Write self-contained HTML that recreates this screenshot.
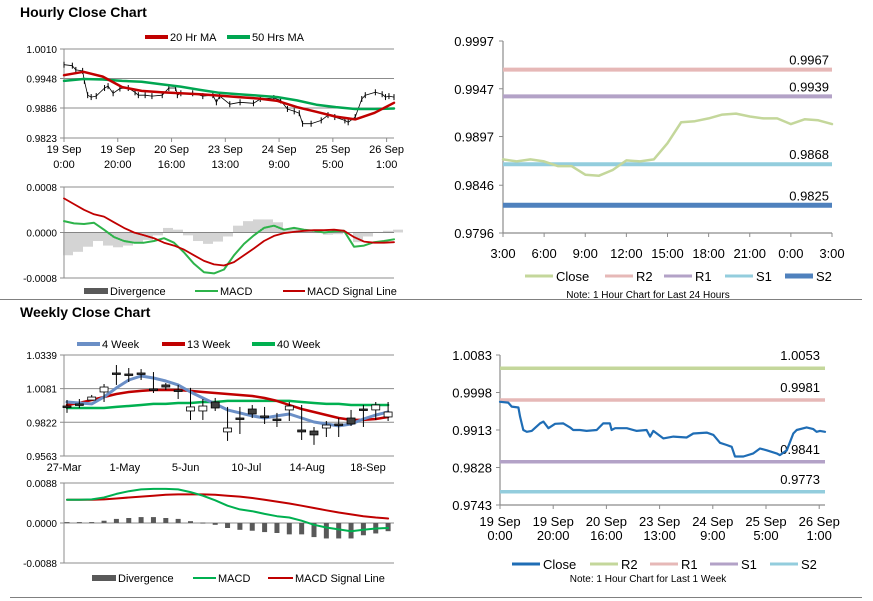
<!DOCTYPE html>
<html><head><meta charset="utf-8"><style>
body{margin:0;background:#fff;}
svg{display:block;font-family:"Liberation Sans",Arial,sans-serif;}
</style></head><body>
<svg id="c" width="873" height="601" viewBox="0 0 873 601" xmlns="http://www.w3.org/2000/svg">
<rect width="873" height="601" fill="#fff"/>
<text x="20" y="17" font-size="14" font-weight="bold" fill="#000">Hourly Close Chart</text>
<text x="20" y="317" font-size="14" font-weight="bold" fill="#000">Weekly Close Chart</text>
<line x1="0" y1="299.5" x2="862" y2="299.5" stroke="#808080" stroke-width="1"/>
<line x1="10" y1="597.5" x2="862" y2="597.5" stroke="#808080" stroke-width="1"/>
<g id="g"></g>
</svg>
<script>
// ---------- data ----------
const weekTime = [0,4.3,6.1,9.6,10.5,12.2,14,16.6,20.9,22.7,25.3,28.8,33.1,36.6,38.3,41.8,45.3,50.6,54,57.5,58.4,60.2,66.3,71.5,76.7,78.5,80.2,85.4,90.7,97.6,101.1,108.1,111.6,115.1,118.6,121.2,122.9,127.3,132.5,136,139.5,144.7,146.4,150,153.4,155.2,160.4,163.9,165.6,167.4,170];
const weekClose = [0.9977,0.9975,0.9966,0.9964,0.9943,0.9913,0.9909,0.9911,0.9928,0.9932,0.9917,0.9927,0.9928,0.9919,0.9913,0.9913,0.9911,0.9913,0.9928,0.9928,0.9913,0.9917,0.9917,0.9911,0.9913,0.9898,0.9911,0.9894,0.9898,0.9896,0.9905,0.9907,0.9902,0.9884,0.9879,0.9875,0.9853,0.9853,0.9860,0.9871,0.9867,0.9860,0.9856,0.9867,0.9905,0.9913,0.9919,0.9915,0.9909,0.9911,0.9909];
const hourTicks = ["19 Sep|0:00","19 Sep|20:00","20 Sep|16:00","23 Sep|13:00","24 Sep|9:00","25 Sep|5:00","26 Sep|1:00"];
const hourTickPos = [0,27.7,55.4,83.1,110.8,138.5,166.2];
const maTime = [0,10,20,30,40,50,60,70,80,90,100,110,120,130,140,150,160,170];
const ma20 = [0.9955,0.9962,0.9952,0.9930,0.9922,0.9919,0.9917,0.9915,0.9912,0.9909,0.9906,0.9901,0.9888,0.9878,0.9868,0.9862,0.9876,0.9897];
const ma50 = [0.9943,0.9947,0.9946,0.9943,0.9941,0.9936,0.9931,0.9924,0.9918,0.9915,0.9912,0.9909,0.9902,0.9893,0.9888,0.9884,0.9884,0.9885];
const hPriceTicks = [1.0010,0.9948,0.9886,0.9823];
const hMacd = [2,1.6,1.5,1.7,0.5,-0.8,-1.5,-1.8,-1.8,-1.5,-1,-1.8,-3.5,-5.5,-7,-7.2,-6.5,-4,-2,-0.5,0.8,1.2,0.5,0.8,0.5,0.3,0,0.2,0.3,-2.5,-2.3,-1.7,-1.5,-1.2];
const hSignal = [6,5,4,3.2,2.8,1.8,0.8,0,-0.5,-1,-1.8,-2.3,-3,-4,-5,-5.6,-5.8,-5.2,-4,-2.8,-1.5,-0.6,-0.1,0.1,0.3,0.4,0.4,0.5,0.3,-0.8,-1.6,-1.8,-1.8,-1.7];
const hMacdTicks = ["0.0008","0.0000","-0.0008"];
const dayClose = [0.9873,0.9871,0.9873,0.9871,0.9866,0.9866,0.9857,0.9856,0.9862,0.9872,0.9871,0.9873,0.9890,0.9912,0.9913,0.9916,0.9920,0.9921,0.9918,0.9916,0.9916,0.9910,0.9915,0.9914,0.9910];
const dayTicks = ["3:00","6:00","9:00","12:00","15:00","18:00","21:00","0:00","3:00"];
const dayYTicks = [0.9997,0.9947,0.9897,0.9846,0.9796];
const dayLevels = [0.9967,0.9939,0.9868,0.9825];
const dayLevelNames = ["R2","R1","S1","S2"];
const weekLevels = [1.0053,0.9981,0.9841,0.9773];
const weekLevelNames = ["R2","R1","S1","S2"];
const weekYTicks = [1.0083,0.9998,0.9913,0.9828,0.9743];
const wOpen = [0.9947,0.9963,0.9993,1.0055,1.0201,1.0193,1.0201,1.0078,1.0109,1.0070,0.9909,0.9909,0.9978,0.9748,0.9855,0.9924,0.9871,0.9847,0.9917,0.9763,0.9755,0.9778,0.9809,0.9855,0.9924,0.9917,0.9863];
const wClose = [0.9940,0.9955,1.0016,1.0093,1.0193,1.0186,1.0193,1.0070,1.0093,1.0063,0.9940,0.9947,0.9932,0.9778,0.9847,0.9886,0.9863,0.9840,0.9947,0.9748,0.9725,0.9801,0.9801,0.9809,0.9917,0.9955,0.9901];
const wHigh = [0.9993,1.0001,1.0032,1.0116,1.0262,1.0239,1.0231,1.0208,1.0124,1.0109,1.0086,1.0001,1.0009,0.9940,0.9940,0.9955,0.9940,0.9894,0.9978,0.9955,0.9786,0.9832,0.9855,0.9917,0.9955,0.9978,0.9978];
const wLow = [0.9894,0.9932,0.9993,0.9978,1.0109,1.0132,1.0147,1.0047,1.0070,1.0001,0.9840,0.9840,0.9909,0.9679,0.9732,0.9855,0.9809,0.9786,0.9832,0.9686,0.9648,0.9709,0.9709,0.9794,0.9786,0.9840,0.9832];
const w4 = [0.9978,0.9970,0.9963,1.0016,1.0086,1.0147,1.0178,1.0162,1.0139,1.0109,1.0055,1.0009,0.9963,0.9917,0.9894,0.9871,0.9855,0.9871,0.9886,0.9855,0.9824,0.9809,0.9794,0.9809,0.9847,0.9878,0.9901];
const w13 = [0.9955,0.9970,0.9993,1.0016,1.0039,1.0055,1.0063,1.0070,1.0070,1.0070,1.0063,1.0055,1.0047,1.0039,1.0032,1.0024,1.0009,0.9986,0.9955,0.9924,0.9901,0.9878,0.9855,0.9840,0.9840,0.9847,0.9863];
const w40 = [0.9932,0.9932,0.9932,0.9932,0.9940,0.9947,0.9955,0.9963,0.9963,0.9970,0.9970,0.9978,0.9978,0.9986,0.9986,0.9986,0.9986,0.9986,0.9986,0.9978,0.9970,0.9963,0.9963,0.9955,0.9955,0.9955,0.9955];
const wYTicks = [1.0339,1.0081,0.9822,0.9563];
const wXTicks = ["27-Mar","1-May","5-Jun","10-Jul","14-Aug","18-Sep"];
const wXTickIdx = [0,5,10,15,20,25];
const wMacd = [0.0051,0.0051,0.0052,0.0056,0.0064,0.0070,0.0074,0.0075,0.0075,0.0074,0.0068,0.0060,0.0050,0.0038,0.0030,0.0026,0.0020,0.0015,0.0012,0.0005,-0.0004,-0.0010,-0.0014,-0.0018,-0.0015,-0.0012,-0.0011];
const wSignal = [0.0051,0.0051,0.0051,0.0052,0.0054,0.0056,0.0058,0.0060,0.0062,0.0063,0.0063,0.0063,0.0062,0.0060,0.0058,0.0055,0.0051,0.0047,0.0043,0.0038,0.0033,0.0028,0.0023,0.0019,0.0015,0.0012,0.0010];
const wDiv = [0.0002,0.0002,0.0002,0.0005,0.0009,0.0011,0.0013,0.0013,0.0011,0.0009,0.0004,0.0001,-0.0004,-0.0011,-0.0015,-0.0017,-0.0020,-0.0022,-0.0025,-0.0025,-0.0031,-0.0034,-0.0034,-0.0034,-0.0027,-0.0023,-0.0018];
const wMacdTicks = ["0.0088","0.0000","-0.0088"];

// ---------- helpers ----------
const NS="http://www.w3.org/2000/svg";
const G=document.getElementById('g');
function mk(tag,attrs,parent){const e=document.createElementNS(NS,tag);for(const k in attrs)e.setAttribute(k,attrs[k]);(parent||G).appendChild(e);return e;}
function lin(d0,d1,r0,r1){return v=>r0+(v-d0)/(d1-d0)*(r1-r0);}
function txt(x,y,s,size,anchor,name){
  const t=mk('text',{x:x,y:y,'font-size':size,'text-anchor':anchor||'start',fill:'#000'});
  t.textContent=s;
  
  
  return t;
}
function hline(x1,x2,y,color,w,name){
  const l=mk('line',{x1:x1,x2:x2,y1:y,y2:y,stroke:color,'stroke-width':w});
  
  
  return l;
}
function vline(x,y1,y2,color,w,name){
  const l=mk('line',{x1:x,x2:x,y1:y1,y2:y2,stroke:color,'stroke-width':w});
  
  
  return l;
}
function poly(xs,ys,color,w,name){
  const p=mk('polyline',{points:xs.map((x,i)=>x.toFixed(1)+','+ys[i].toFixed(1)).join(' '),fill:'none',stroke:color,'stroke-width':w,'stroke-linejoin':'round','stroke-linecap':'round'});
  
  
  return p;
}
function legLine(x1,x2,y,color,w,label,name){
  hline(x1,x2,y,color,w,name+'-swatch');
  txt(x2+2,y+4,label,11,'start',name+'-label');
}
const GRID='#8c8c8c';

// ---------- hourly price (top-left) ----------
{
  const X=lin(0,170,64,394), Y=lin(0.9823,1.0010,138,49);
  hPriceTicks.forEach(v=>{hline(60,394,Y(v),GRID,1,'hourly-gridline');txt(57,Y(v)+4,v.toFixed(4),10,'end','hourly-y-tick');});
  vline(64,49,138,GRID,1,'hourly-y-axis');
  hourTickPos.forEach((t,i)=>{const [a,b]=hourTicks[i].split('|');vline(X(t),138,142,GRID,1,'hourly-x-tick-mark');txt(X(t),153,a,11,'middle','hourly-x-tick');txt(X(t),168,b,11,'middle','hourly-x-tick');});
  weekClose.forEach((v,i)=>{vline(X(weekTime[i]),Y(v)-3,Y(v)+3,'#000',1,'hourly-candle');});
  poly(weekTime.map(X),weekClose.map(Y),'#000',0.8,'hourly-close-line');
  poly(maTime.map(X),ma50.map(Y),'#00a651',2.5,'ma50-line');
  poly(maTime.map(X),ma20.map(Y),'#c00000',2.5,'ma20-line');
  legLine(145,168,37,'#c00000',4,'20 Hr MA','legend-ma20');
  legLine(227,250,37,'#00a651',4,'50 Hrs MA','legend-ma50');
}
// ---------- hourly MACD ----------
{
  const X=i=>64+i*10, Y=lin(-8,8,278,187);
  [8,0,-8].forEach((v,i)=>{hline(60,394,Y(v),GRID,1,'hourly-macd-gridline');txt(57,Y(v)+4,hMacdTicks[i],10,'end','hourly-macd-y-tick');});
  vline(64,187,278,GRID,1,'hourly-macd-y-axis');
  hMacd.forEach((v,i)=>{
    const d=v-hSignal[i];
    for(let k=0;k<5;k++){vline(X(i)+k*2,Y(0),Y(d),'#555',0.5,'hourly-divergence-bar');}
  });
  poly(hMacd.map((v,i)=>X(i)),hMacd.map(Y),'#2db34a',2,'hourly-macd-line');
  poly(hSignal.map((v,i)=>X(i)),hSignal.map(Y),'#c00000',1.8,'hourly-signal-line');
  hline(84,108,291,'#595959',6,'legend-divergence-swatch');txt(110,295,'Divergence',11,'start','legend-divergence-label');
  legLine(195,218,291,'#2db34a',2,'MACD','legend-macd');
  legLine(283,305,291,'#c00000',2,'MACD Signal Line','legend-signal');
}
// ---------- 24h levels (top-right) ----------
{
  const X=lin(0,24,503,832), Y=lin(0.9796,0.9997,233,41);
  const cols=['#e6b8b7','#b3a2c7','#93cddd','#4f81bd'];
  dayYTicks.forEach(v=>{hline(499,503,Y(v),GRID,1,'day-y-tick-mark');txt(494,Y(v)+5,v.toFixed(4),13,'end','day-y-tick');});
  vline(503,41,233,GRID,1.2,'day-y-axis');hline(503,832,233,GRID,1.2,'day-x-axis');
  dayTicks.forEach((s,i)=>{const x=X(i*3);vline(x,233,237,GRID,1,'day-x-tick-mark');txt(x,258,s,13,'middle','day-x-tick');});
  dayLevels.forEach((v,i)=>{hline(503,832,Y(v),cols[i],i==3?5:4,'day-level-'+dayLevelNames[i]);txt(829,Y(v)-5,v.toFixed(4),13,'end','day-level-label');});
  poly(dayClose.map((v,i)=>X(i)),dayClose.map(Y),'#c4d79b',2.5,'day-close-line');
  const leg=[['Close','#c4d79b',525],['R2','#e6b8b7',605],['R1','#b3a2c7',664],['S1','#93cddd',725],['S2','#4f81bd',785]];
  leg.forEach((l,i)=>{hline(l[2],l[2]+28,276,l[1],i==4?5:3,'day-legend-swatch');txt(l[2]+31,281,l[0],13,'start','day-legend-label');});
  txt(648,298,'Note: 1 Hour Chart for Last 24 Hours',10,'middle','day-note');
}
// ---------- weekly candles ----------
{
  const X=i=>67+i*12.35, Y=lin(0.9563,1.0339,456,355);
  wYTicks.forEach(v=>{hline(60,394,Y(v),GRID,1,'weekly-gridline');txt(57,Y(v)+4,v.toFixed(4),10,'end','weekly-y-tick');});
  vline(64,355,456,GRID,1,'weekly-y-axis');
  wXTickIdx.forEach((k,i)=>{txt(64+k*60.8/5,471,wXTicks[i],11,'middle','weekly-x-tick');});
  poly(w40.map((v,i)=>X(i)),w40.map(Y),'#00b050',2.5,'week40-line');
  poly(w13.map((v,i)=>X(i)),w13.map(Y),'#c00000',2.5,'week13-line');
  poly(w4.map((v,i)=>X(i)),w4.map(Y),'#6b8fc6',3,'week4-line');
  wOpen.forEach((o,i)=>{
    const c=wClose[i];
    vline(X(i),Y(wHigh[i]),Y(wLow[i]),'#000',1,'weekly-candle-wick');
    const top=Math.min(Y(o),Y(c)),h=Math.max(1.5,Math.abs(Y(o)-Y(c)));
    const r=mk('rect',{x:X(i)-4,y:top,width:8,height:h,fill:c>=o?'#fff':'#404040',stroke:'#000','stroke-width':0.8});
    
    
  });
  legLine(77,100,344,'#6b8fc6',4,'4 Week','legend-week4');
  legLine(162,185,344,'#c00000',4,'13 Week','legend-week13');
  legLine(252,275,344,'#00b050',4,'40 Week','legend-week40');
}
// ---------- weekly MACD ----------
{
  const X=i=>67+i*12.35, Y=lin(-0.0088,0.0088,563,483);
  [0.0088,0,-0.0088].forEach((v,i)=>{hline(60,394,Y(v),GRID,1,'weekly-macd-gridline');txt(57,Y(v)+4,wMacdTicks[i],10,'end','weekly-macd-y-tick');});
  vline(64,483,563,GRID,1,'weekly-macd-y-axis');
  wDiv.forEach((d,i)=>{const y0=Y(0),y1=Y(d);const r=mk('rect',{x:X(i)-2.5,y:Math.min(y0,y1),width:5,height:Math.max(1,Math.abs(y1-y0)),fill:'#595959'});
    
    });
  poly(wSignal.map((v,i)=>X(i)),wSignal.map(Y),'#c00000',2,'weekly-signal-line');
  poly(wMacd.map((v,i)=>X(i)),wMacd.map(Y),'#00b050',2,'weekly-macd-line');
  hline(92,116,578,'#595959',6,'weekly-legend-divergence-swatch');txt(118,582,'Divergence',11,'start','weekly-legend-divergence-label');
  legLine(193,216,578,'#00b050',2,'MACD','weekly-legend-macd');
  legLine(268,293,578,'#c00000',2,'MACD Signal Line','weekly-legend-signal');
}
// ---------- week levels (bottom-right) ----------
{
  const X=lin(0,170,500,825), Y=lin(0.9743,1.0083,505,355);
  const cols=['#c4d79b','#e6b8b7','#b3a2c7','#93cddd'];
  weekYTicks.forEach(v=>{hline(496,500,Y(v),GRID,1,'wk-y-tick-mark');txt(492,Y(v)+5,v.toFixed(4),13,'end','wk-y-tick');});
  vline(500,355,505,GRID,1.2,'wk-y-axis');hline(500,825,505,GRID,1.2,'wk-x-axis');
  hourTicks.forEach((s,i)=>{const [a,b]=s.split('|');const x=500+i*53.2;vline(x,505,509,GRID,1,'wk-x-tick-mark');txt(x,526,a,13,'middle','wk-x-tick');txt(x,540,b,13,'middle','wk-x-tick');});
  weekLevels.forEach((v,i)=>{hline(500,825,Y(v),cols[i],3.5,'wk-level-'+weekLevelNames[i]);txt(820,Y(v)-8,v.toFixed(4),13,'end','wk-level-label');});
  poly(weekTime.map(X),weekClose.map(Y),'#1f6db5',2.2,'wk-close-line');
  const leg=[['Close','#1f6db5',512],['R2','#c4d79b',590],['R1','#e6b8b7',650],['S1','#b3a2c7',710],['S2','#93cddd',770]];
  leg.forEach((l,i)=>{hline(l[2],l[2]+28,564,l[1],3,'wk-legend-swatch');txt(l[2]+31,569,l[0],13,'start','wk-legend-label');});
  txt(648,582,'Note: 1 Hour Chart for Last 1 Week',10,'middle','wk-note');
}
</script>
</body></html>
